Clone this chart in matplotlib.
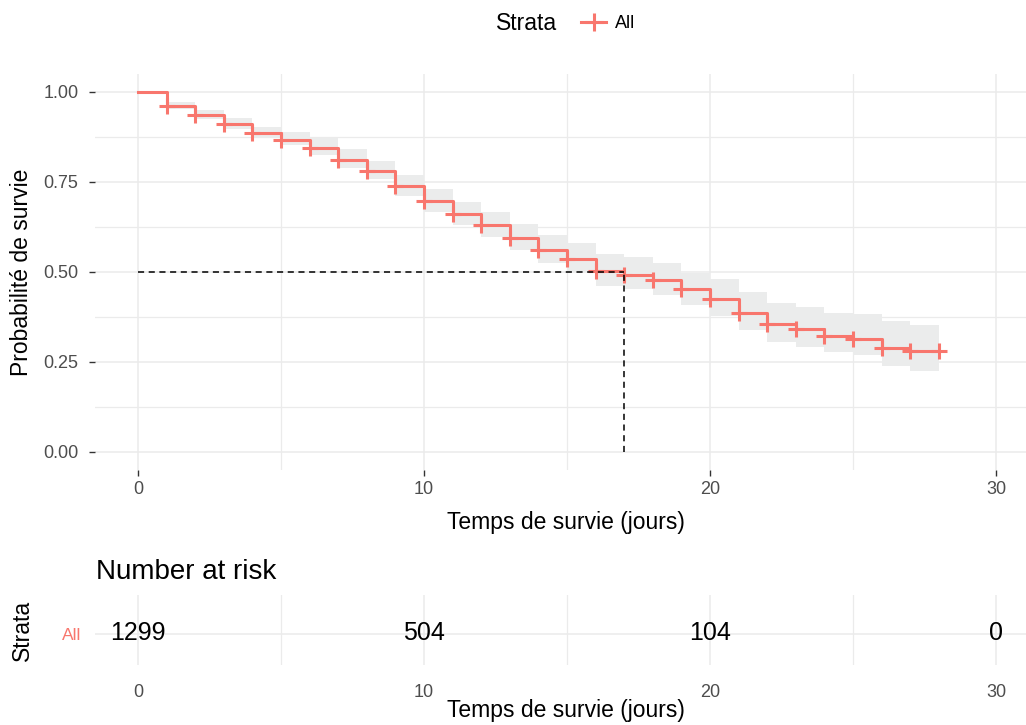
import numpy as np
import matplotlib
matplotlib.use("Agg")
import matplotlib.pyplot as plt
from matplotlib.lines import Line2D
from matplotlib.ticker import MultipleLocator

plt.rcParams['font.family'] = ['Liberation Sans', 'DejaVu Sans']

# Kaplan-Meier estimate (one step per day)
days = [0, 1, 2, 3, 4, 5, 6, 7, 8, 9, 10, 11, 12, 13, 14,
        15, 16, 17, 18, 19, 20, 21, 22, 23, 24, 25, 26, 27, 28]
surv = [1.000, 0.962, 0.937, 0.911, 0.886, 0.866, 0.845, 0.812, 0.781, 0.739,
        0.697, 0.661, 0.631, 0.594, 0.562, 0.535, 0.502, 0.493, 0.479, 0.452,
        0.425, 0.387, 0.356, 0.341, 0.323, 0.315, 0.288, 0.281, 0.281]
upper = [1.000, 0.971, 0.950, 0.927, 0.904, 0.890, 0.871, 0.841, 0.809, 0.769,
         0.730, 0.695, 0.667, 0.633, 0.603, 0.581, 0.550, 0.541, 0.526, 0.498,
         0.480, 0.445, 0.415, 0.402, 0.385, 0.383, 0.365, 0.353, 0.353]
lower = [1.000, 0.953, 0.925, 0.898, 0.873, 0.852, 0.825, 0.790, 0.757, 0.711,
         0.668, 0.630, 0.598, 0.560, 0.525, 0.500, 0.462, 0.452, 0.436, 0.407,
         0.378, 0.340, 0.305, 0.292, 0.279, 0.270, 0.240, 0.226, 0.226]
median_time = 17

risk_times = [0, 10, 20, 30]
risk_counts = [1299, 504, 104, 0]

red = '#F8766D'
grid_col = '#EBEBEB'
tick_col = '#4D4D4D'

W, H = 1026, 725
fig = plt.figure(figsize=(W / 100, H / 100), dpi=100)


def px_axes(left, top, right, bottom):
    return fig.add_axes([left / W, 1 - bottom / H, (right - left) / W, (bottom - top) / H])


def style(ax):
    for s in ax.spines.values():
        s.set_visible(False)
    ax.xaxis.set_major_locator(MultipleLocator(10))
    ax.xaxis.set_minor_locator(MultipleLocator(5))
    ax.grid(True, which='major', color=grid_col, lw=1.1)
    ax.grid(True, which='minor', color=grid_col, lw=0.9)
    ax.set_axisbelow(True)
    ax.set_xlim(-1.5, 31.5)


# ---- survival curve ----
ax = px_axes(95, 74, 1039, 470)
style(ax)
ax.yaxis.set_major_locator(MultipleLocator(0.25))
ax.yaxis.set_minor_locator(MultipleLocator(0.125))
ax.set_ylim(-0.05, 1.05)

ax.fill_between(days, lower, upper, step='post', color='#EBECEC', lw=0, zorder=1)
ax.step(days, surv, where='post', color=red, lw=2.2, zorder=3)
ax.plot(days[1:], surv[1:], ls='none', marker='+', ms=12, mew=2.2, color=red, zorder=4)

ax.plot([0, median_time], [0.5, 0.5], color='black', ls=(0, (4, 3)), lw=1.1, zorder=5)
ax.plot([median_time, median_time], [0, 0.5], color='black', ls=(0, (4, 3)), lw=1.1, zorder=5)

ax.set_yticks([0, 0.25, 0.5, 0.75, 1.0])
ax.set_yticklabels(['0.00', '0.25', '0.50', '0.75', '1.00'])
ax.set_xticks([0, 10, 20, 30])
ax.tick_params(axis='both', which='major', length=4, width=1, color='#333333',
               labelcolor=tick_col, labelsize=13)
ax.tick_params(axis='y', pad=8)
ax.tick_params(axis='x', pad=4)
ax.tick_params(which='minor', length=0)

fig.text(566 / W, 1 - 523 / H, 'Temps de survie (jours)', ha='center', va='center', fontsize=16.5)
fig.text(22 / W, 1 - 272 / H, 'Probabilité de survie', ha='center', va='center',
         rotation=90, fontsize=16.5)

# ---- legend ----
fig.text(527 / W, 1 - 24 / H, 'Strata', ha='center', va='center', fontsize=16.5)
fig.legend([Line2D([], [], color=red, lw=2.2, marker='+', ms=13, mew=2.2)], ['All'],
           loc='center left', bbox_to_anchor=(572 / W, 1 - 24 / H), frameon=False,
           handlelength=1.4, handletextpad=0.5, fontsize=13, borderpad=0)

# ---- risk table ----
ax2 = px_axes(95, 595, 1039, 665)
style(ax2)
ax2.set_ylim(0.55, 1.55)
ax2.set_yticks([1])
ax2.set_yticklabels(['All'])
ax2.grid(False, axis='y', which='minor')
for t, n in zip(risk_times, risk_counts):
    ax2.text(t, 1, str(n), ha='center', va='center', fontsize=18)
ax2.set_xticks([0, 10, 20, 30])
ax2.tick_params(axis='both', which='both', length=0, labelcolor=tick_col, labelsize=13)
ax2.tick_params(axis='x', pad=14)
ax2.tick_params(axis='y', pad=10, labelsize=12.5)
ax2.get_yticklabels()[0].set_color(red)

fig.text(96 / W, 1 - 572 / H, 'Number at risk', ha='left', va='center', fontsize=20)
fig.text(566 / W, 1 - 711 / H, 'Temps de survie (jours)', ha='center', va='center', fontsize=16.5)
fig.text(22 / W, 1 - 630 / H, 'Strata', ha='center', va='center', rotation=90, fontsize=16.5)

fig.savefig('out.png', dpi=100)
